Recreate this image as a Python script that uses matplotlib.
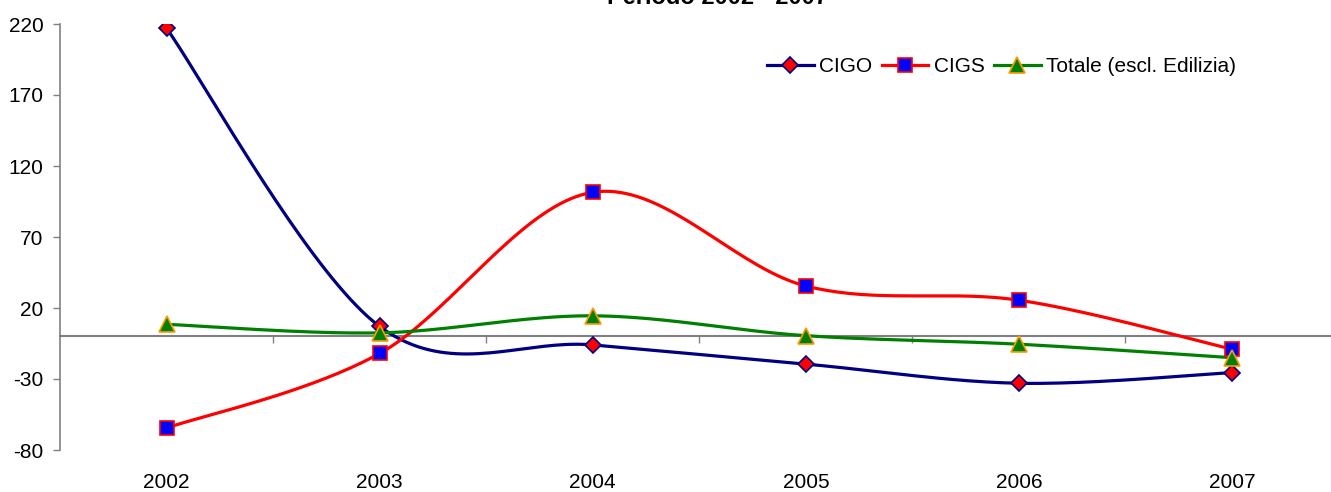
import matplotlib
matplotlib.use("Agg")
import matplotlib.pyplot as plt
import numpy as np

plt.rcParams["font.family"] = ["Liberation Sans", "DejaVu Sans"]
plt.rcParams["axes.unicode_minus"] = False

YEARS = ["2002", "2003", "2004", "2005", "2006", "2007"]
CIGO = [217, 7, -6, -19.5, -33, -25.5]
CIGS = [-64.5, -12, 101.5, 35.5, 25.5, -9]
TOTALE = [8.5, 2.5, 14.5, 0.5, -5.5, -15]

SERIES = [
    ("CIGO", CIGO, "#000080", "D", "#FF0000", "#000080", 8.5),
    ("CIGS", CIGS, "#FF0000", "s", "#0000FF", "#FF0000", 9.5),
    ("Totale (escl. Edilizia)", TOTALE, "#008000", "^", "#008000", "#FF9900", 11),
]


def smooth(xs, ys, n=40):
    # Excel-like smoothed line: Catmull-Rom control points joined by cubic Bezier pieces
    pts = np.column_stack([np.asarray(xs, float), np.asarray(ys, float)])
    out = []
    t = np.linspace(0, 1, n)[:, None]
    last = len(pts) - 1
    for i in range(last):
        p0, p3 = pts[i], pts[i + 1]
        prev = pts[i - 1] if i > 0 else p0
        nxt = pts[i + 2] if i + 2 <= last else p3
        c1 = p0 + (p3 - prev) / 6
        c2 = p3 - (nxt - p0) / 6
        b = (1 - t) ** 3 * p0 + 3 * (1 - t) ** 2 * t * c1 + 3 * (1 - t) * t ** 2 * c2 + t ** 3 * p3
        out.append(b)
    out = np.vstack(out)
    return out[:, 0], out[:, 1]


fig = plt.figure(figsize=(13.31, 4.92), dpi=100)
ax = fig.add_axes([60 / 1331, 1 - 450 / 492, 1278.6 / 1331, 426 / 492])

x = np.arange(len(YEARS))
handles = []
for label, vals, lc, mk, mfc, mec, ms in SERIES:
    sx, sy = smooth(x, vals)
    ax.plot(sx, sy, color=lc, lw=2.3, zorder=3, solid_capstyle="round")
    ax.plot(x, vals, ls="none", marker=mk, ms=ms, mfc=mfc, mec=mec, mew=1.2, zorder=4)
    h, = ax.plot([], [], color=lc, lw=2.3, marker=mk, ms=ms, mfc=mfc, mec=mec, mew=1.2)
    handles.append((h, label))

ax.set_xlim(-0.5, len(YEARS) - 0.5)
ax.set_ylim(-80, 220)
ax.set_yticks(np.arange(-80, 221, 50))
ax.tick_params(axis="y", direction="out", length=5, width=1, color="#808080",
               labelsize=15, pad=7)

for s in ["top", "right"]:
    ax.spines[s].set_visible(False)
ax.spines["left"].set_color("#808080")
ax.spines["left"].set_linewidth(1.2)
ax.spines["bottom"].set_position(("data", 0))
ax.spines["bottom"].set_color("#808080")
ax.spines["bottom"].set_linewidth(1.5)
ax.set_xticks(np.arange(0.5, len(YEARS) - 0.5, 1))
ax.set_xticklabels([])
ax.tick_params(axis="x", direction="out", length=5, width=1, color="#808080")

for i, yr in enumerate(YEARS):
    ax.text(i, -80 - 32 / 1.42, yr, ha="center", va="center", fontsize=15, clip_on=False)

fig.text(717 / 1331, 1 - 3.5 / 492, "Periodo 2002 - 2007", ha="center", va="baseline",
         fontsize=17, fontweight="bold")

fig.legend([h for h, _ in handles], [l for _, l in handles], loc="center left",
           bbox_to_anchor=(767 / 1331, 1 - 67 / 492), ncol=3, frameon=False,
           fontsize=15, handlelength=2.25, handletextpad=0.25, columnspacing=0.45,
           borderpad=0, borderaxespad=0, numpoints=1)

fig.savefig("out.png", dpi=100)
